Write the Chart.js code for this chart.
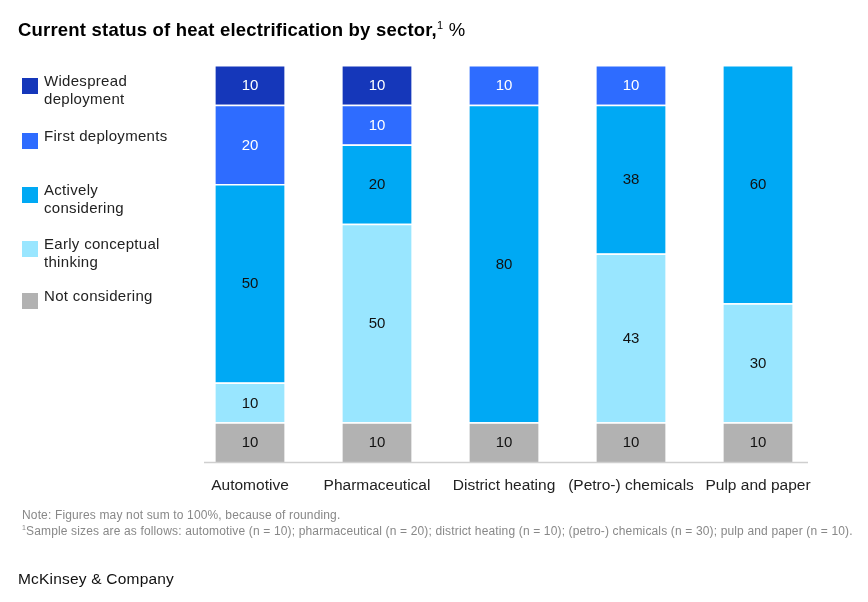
<!DOCTYPE html>
<html>
<head>
<meta charset="utf-8">
<script src="https://cdn.jsdelivr.net/npm/chart.js@4.4.1/dist/chart.umd.min.js"></script>
<style>
  html, body { margin: 0; padding: 0; background: #fff; }
  body { width: 868px; height: 602px; position: relative; overflow: hidden;
         font-family: "Liberation Sans", Arial, sans-serif; color: #000; }
  #wrap { position: absolute; left: 0; top: 0; width: 868px; height: 602px; }
  .title { position: absolute; left: 18px; top: 19px; font-size: 18.5px; font-weight: bold; letter-spacing: 0.2px; white-space: nowrap; }
  .title sup { font-weight: normal; font-size: 11px; }
  .title .unit { font-weight: normal; }
  .legend { position: absolute; left: 22px; top: 0; font-size: 15px; line-height: 18px; color: #222; letter-spacing: 0.3px; }
  .legend .item { position: absolute; left: 0; white-space: nowrap; }
  .legend .sw { position: absolute; left: 0; width: 16px; height: 16px; }
  .legend .tx { position: absolute; left: 22px; }
  .note { position: absolute; left: 22px; font-size: 12px; letter-spacing: 0.15px; color: #888; white-space: nowrap; }
  .brand { position: absolute; left: 18px; top: 570px; font-size: 15.5px; letter-spacing: 0.2px; color: #111; }
</style>
</head>
<body>
<div id="wrap"><canvas id="chart" width="868" height="602"></canvas></div>
<div class="title">Current status of heat electrification by sector,<sup>1</sup> <span class="unit">%</span></div>
<div class="legend" id="legend"></div>
<div class="note" style="top:508px">Note: Figures may not sum to 100%, because of rounding.</div>
<div class="note" style="top:524px"><sup style="font-size:7px">1</sup>Sample sizes are as follows: automotive (n = 10); pharmaceutical (n = 20); district heating (n = 10); (petro-) chemicals (n = 30); pulp and paper (n = 10).</div>
<div class="brand">McKinsey &amp; Company</div>
<script>
// categories and series (bottom to top of each stack)
const sectors = ['Automotive', 'Pharmaceutical', 'District heating', '(Petro-) chemicals', 'Pulp and paper'];
const notConsidering = [10, 10, 10, 10, 10];
const earlyConceptual = [10, 50, 0, 42.5, 30];
const activelyConsidering = [50, 20, 80, 37.5, 60];
const firstDeployments = [20, 10, 10, 10, 0];
const widespreadDeployment = [10, 10, 0, 0, 0];

const seriesNames = ['Not considering', 'Early conceptual thinking', 'Actively considering', 'First deployments', 'Widespread deployment'];
const legendLines = [['Not considering'], ['Early conceptual', 'thinking'], ['Actively', 'considering'], ['First deployments'], ['Widespread', 'deployment']];
const colors = ['#B2B2B2', '#99E6FF', '#00A9F4', '#2E6CFF', '#1537BA'];
const labelColors = ['#111', '#111', '#111', '#fff', '#fff'];
const seriesData = [notConsidering, earlyConceptual, activelyConsidering, firstDeployments, widespreadDeployment];

// legend, top to bottom
const legendTops = [77, 132, 186, 240, 292];
const legendEl = document.getElementById('legend');
for (let k = 0; k < 5; k++) {
  const i = 4 - k;
  const item = document.createElement('div');
  item.className = 'item';
  item.style.top = legendTops[k] + 'px';
  item.innerHTML = '<div class="sw" style="top:1px;background:' + colors[i] + '"></div>' +
    '<div class="tx" style="top:-5px">' + legendLines[i].join('<br>') + '</div>';
  legendEl.appendChild(item);
}

// value labels inside segments + baseline
const segmentLabels = {
  id: 'segmentLabels',
  afterDatasetsDraw(chart) {
    const ctx = chart.ctx;
    ctx.save();
    ctx.font = '15px "Liberation Sans", Arial, sans-serif';
    ctx.textAlign = 'center';
    ctx.textBaseline = 'middle';
    chart.data.datasets.forEach((ds, di) => {
      const meta = chart.getDatasetMeta(di);
      meta.data.forEach((bar, j) => {
        const v = ds.data[j];
        if (!v) return;
        const top = Math.max(bar.y, chart.chartArea.top);
        ctx.fillStyle = labelColors[di];
        ctx.fillText(String(Math.round(v)), bar.x, (top + bar.base) / 2 + 1);
      });
    });
    const y = chart.scales.y.getPixelForValue(0) + 0.5;
    ctx.strokeStyle = '#cfcfcf';
    ctx.lineWidth = 1.5;
    ctx.beginPath();
    ctx.moveTo(204, y);
    ctx.lineTo(808, y);
    ctx.stroke();
    ctx.restore();
  }
};

new Chart(document.getElementById('chart').getContext('2d'), {
  type: 'bar',
  data: {
    labels: sectors,
    datasets: seriesData.map((d, i) => ({
      label: seriesNames[i],
      data: d,
      backgroundColor: colors[i],
      borderColor: '#ffffff',
      borderWidth: { top: 1.5, bottom: 0, left: 0, right: 0 },
      borderSkipped: false,
      barPercentage: 0.545,
      categoryPercentage: 1
    }))
  },
  options: {
    responsive: false,
    animation: false,
    layout: { padding: { left: 186.5, right: 46.5, top: 65, bottom: 0 } },
    plugins: { legend: { display: false }, tooltip: { enabled: false } },
    scales: {
      x: {
        stacked: true,
        grid: { display: false },
        border: { display: false },
        ticks: {
          color: '#222', padding: 6, maxRotation: 0, minRotation: 0, autoSkip: false,
          font: { size: 15.5, family: '"Liberation Sans", Arial, sans-serif' }
        },
        afterFit(scale) { scale.height = 140; }
      },
      y: {
        stacked: true,
        display: false,
        min: 0,
        max: 100
      }
    }
  },
  plugins: [segmentLabels]
});
</script>
</body>
</html>
